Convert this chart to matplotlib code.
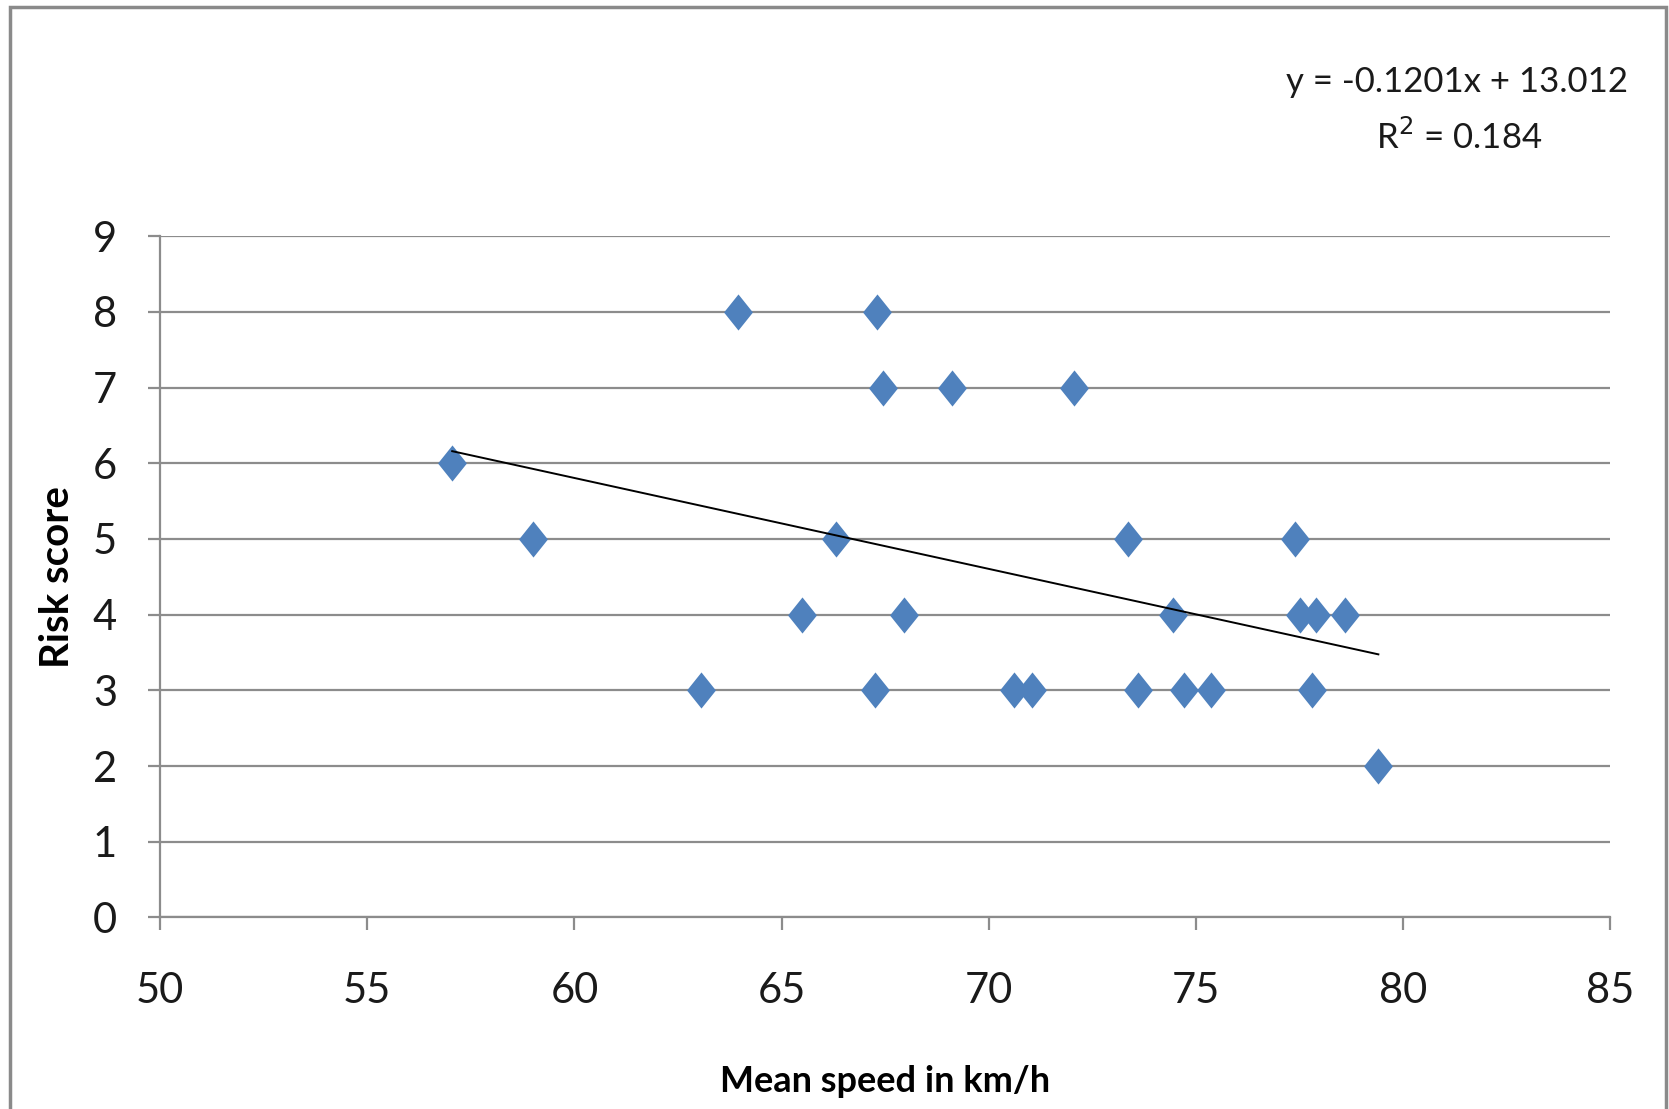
import matplotlib
matplotlib.use('Agg')
import matplotlib.pyplot as plt
from matplotlib.patches import Rectangle
from matplotlib.path import Path
import numpy as np

# data
speed = [57.05, 59.0, 63.95, 67.3, 67.45, 69.1, 72.05, 66.3, 73.35, 77.4,
         65.5, 67.95, 74.45, 77.5, 77.9, 78.6, 63.05, 67.25, 70.6, 71.05,
         73.6, 74.7, 75.35, 77.8, 79.4]
risk = [6, 5, 8, 8, 7, 7, 7, 5, 5, 5,
        4, 4, 4, 4, 4, 4, 3, 3, 3, 3,
        3, 3, 3, 3, 2]
slope = -0.1201
intercept = 13.012
r2 = 0.184
x_ticks = [50, 55, 60, 65, 70, 75, 80, 85]
y_ticks = list(range(10))

font = ['Lato', 'DejaVu Sans']
grid_col = '#8c8c8c'
blue = '#4F81BD'

fig = plt.figure(figsize=(16.69, 11.09), dpi=100)
ax = fig.add_axes([0.0959, 0.1727, 0.869, 0.6143])

# outer chart border
fig.patches.append(Rectangle((10 / 1669, -0.05), 1656 / 1669, 1.05 - 7 / 1109,
                             transform=fig.transFigure, fill=False,
                             edgecolor='#8a8a8a', linewidth=2.5))

# excel-like diamond (a bit taller than wide)
diamond = Path([(0, 1), (0.8, 0), (0, -1), (-0.8, 0), (0, 1)],
               [Path.MOVETO, Path.LINETO, Path.LINETO, Path.LINETO, Path.CLOSEPOLY])

ax.plot(speed, risk, linestyle='none', marker=diamond, markersize=26,
        color=blue, markeredgewidth=0, zorder=3)

xs = np.array([min(speed), max(speed)])
ax.plot(xs, slope * xs + intercept, color='black', linewidth=1.4, zorder=4)

ax.set_xlim(50, 85)
ax.set_ylim(0, 9)
ax.set_xticks(x_ticks)
ax.set_yticks(y_ticks)
ax.yaxis.grid(True, color=grid_col, linewidth=1.6)
ax.set_axisbelow(True)

for side in ['top', 'right']:
    ax.spines[side].set_visible(False)
for side in ['left', 'bottom']:
    ax.spines[side].set_color(grid_col)
    ax.spines[side].set_linewidth(1.6)

ax.tick_params(axis='both', direction='out', color=grid_col, width=1.6,
               length=9, labelsize=30, labelcolor='#1a1a1a')
ax.tick_params(axis='x', pad=30)
ax.tick_params(axis='y', pad=22)
for lab in ax.get_xticklabels() + ax.get_yticklabels():
    lab.set_family(font)

ax.set_xlabel('Mean speed in km/h', fontsize=26, fontweight='bold',
              family=font, labelpad=40)
ax.set_ylabel('Risk score', fontsize=29, fontweight='bold', family=font,
              labelpad=12)

fig.text(0.873, 0.926, f'y = {slope}x + {intercept}', fontsize=25,
         family=font, ha='center', va='center', color='#1a1a1a')
fig.text(0.874, 0.877, f'R$^2$ = {r2}', fontsize=25,
         family=font, ha='center', va='center', color='#1a1a1a')

fig.savefig('out.png', dpi=100)
